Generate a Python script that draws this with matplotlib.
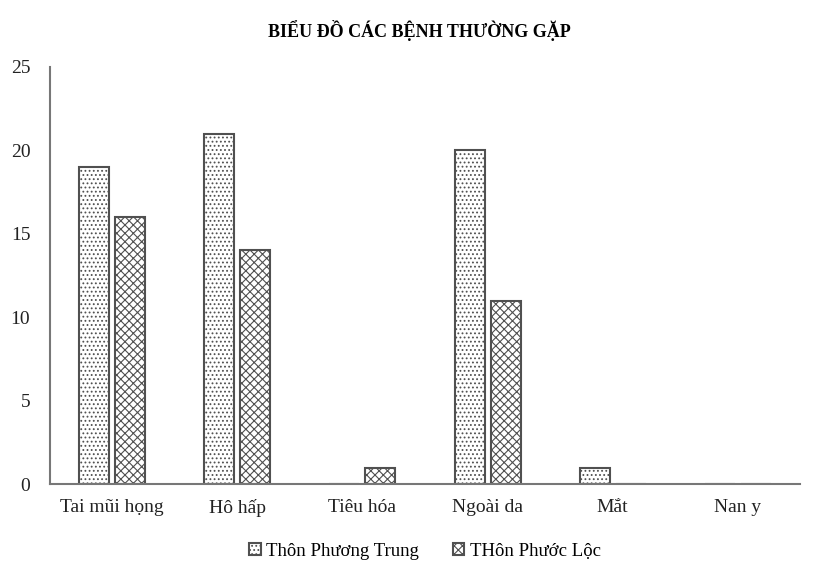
import matplotlib.pyplot as plt
import numpy as np

categories = ['Tai mũi họng', 'Hô hấp', 'Tiêu hóa', 'Ngoài da', 'Mắt', 'Nan y']
phuong_trung = [19, 21, 0, 20, 1, 0]
phuoc_loc = [16, 14, 1, 11, 0, 0]

plt.rcParams['font.family'] = ['Liberation Serif', 'DejaVu Serif']
plt.rcParams['hatch.color'] = '#b5b5b5'
plt.rcParams['hatch.linewidth'] = 0.8

fig = plt.figure(figsize=(8.15, 5.71), dpi=100)
ax = fig.add_axes([0.061, 0.152, 0.921, 0.731])

x = np.arange(len(categories))
w = 0.24
off = 0.144
ax.bar(x - off, phuong_trung, w, color='white', edgecolor='#505050', linewidth=1.5,
       hatch='....', label='Thôn Phương Trung')
ax.bar(x + off, phuoc_loc, w, color='white', edgecolor='#505050', linewidth=1.5,
       hatch='xxxx', label='THôn Phước Lộc')

ax.set_xlim(-0.5, len(categories) - 0.5)
ax.set_ylim(0, 25)
ax.set_yticks(range(0, 26, 5))
ax.set_xticks(x)
ax.set_xticklabels(categories)
ax.tick_params(length=0, labelsize=14, colors='#222222')
ax.tick_params(axis='y', pad=14)
ax.tick_params(axis='x', pad=11)
for s in ['top', 'right']:
    ax.spines[s].set_visible(False)
for s in ['left', 'bottom']:
    ax.spines[s].set_color('#777777')
    ax.spines[s].set_linewidth(1.5)

fig.suptitle('BIỂU ĐỒ CÁC BỆNH THƯỜNG GẶP', x=0.515, y=0.965, fontsize=13,
             fontweight='bold')
ax.legend(loc='upper center', bbox_to_anchor=(0.5, -0.1), ncol=2, frameon=False,
          fontsize=13.5, handlelength=0.6, handleheight=0.6, handletextpad=0.3,
          columnspacing=1.8)

fig.savefig('out.png', dpi=100)
